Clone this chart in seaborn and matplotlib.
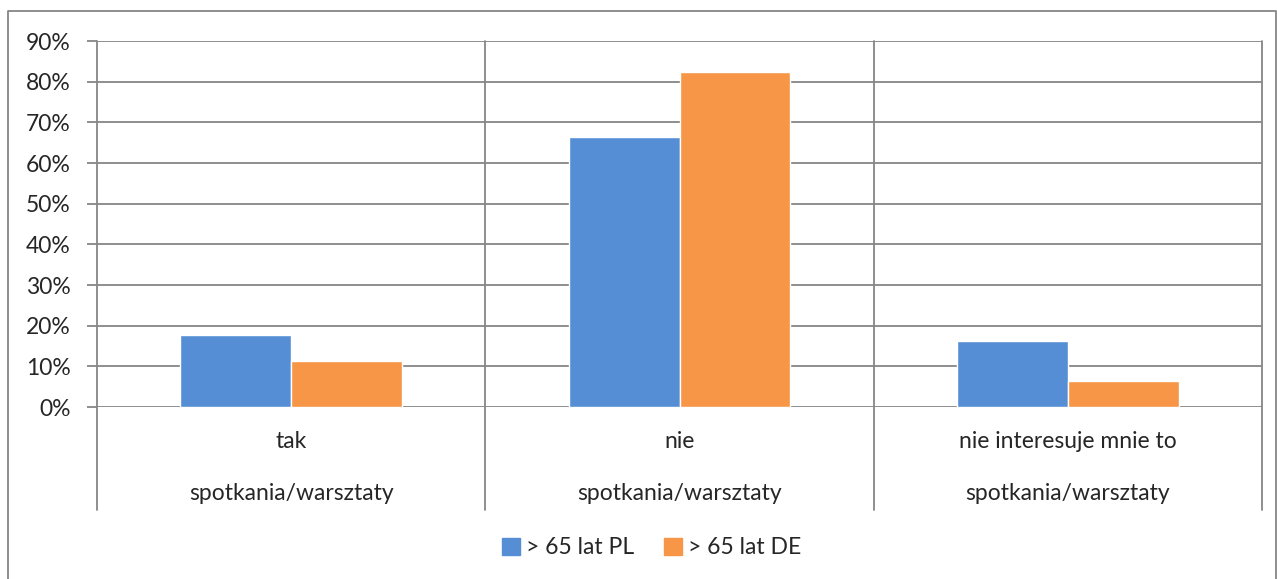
import pandas as pd
import seaborn as sns
import matplotlib.pyplot as plt
from matplotlib.lines import Line2D
from matplotlib.patches import Rectangle
from matplotlib.ticker import PercentFormatter

# values
answers = ["tak", "nie", "nie interesuje mnie to"]
group_label = "spotkania/warsztaty"
series = ["> 65 lat PL", "> 65 lat DE"]
pl_values = [0.177, 0.663, 0.162]
de_values = [0.113, 0.825, 0.065]
y_ticks = [0, 0.1, 0.2, 0.3, 0.4, 0.5, 0.6, 0.7, 0.8, 0.9]

df = pd.DataFrame({
    "answer": answers * 2,
    "group": [series[0]] * 3 + [series[1]] * 3,
    "value": pl_values + de_values,
})

sns.set_style("white")
plt.rcParams["font.family"] = ["Lato", "DejaVu Sans"]
FS = 16.5

W, H = 1277, 579
fig = plt.figure(figsize=(W / 100, H / 100), dpi=100)
left, right, top, bottom = 97, 1262, 41, 407
ax = fig.add_axes([left / W, 1 - bottom / H, (right - left) / W, (bottom - top) / H])

sns.barplot(data=df, x="answer", y="value", hue="group", order=answers,
            hue_order=series, palette=["#558ED5", "#F79646"], width=0.57,
            saturation=1, ax=ax, zorder=3)

ax.set_ylim(0, 0.9)
ax.set_xlim(-0.5, 2.5)
ax.set_yticks(y_ticks)
ax.yaxis.set_major_formatter(PercentFormatter(1.0, decimals=0))
ax.tick_params(axis="y", length=7, width=1.3, color="#868686", labelsize=FS,
               pad=12, left=True)
ax.set_xticks([])
ax.set_xlabel("")
ax.set_ylabel("")
ax.grid(axis="y", color="#868686", lw=1.3, zorder=0)
for s in ax.spines.values():
    s.set_visible(False)

# category separators extending below the axis
ext = (510 - bottom) / (bottom - top)
for xv in [-0.5, 0.5, 1.5, 2.5]:
    ax.add_line(Line2D([xv, xv], [-ext, 1], transform=ax.get_xaxis_transform(),
                       color="#868686", lw=1.3, clip_on=False, zorder=1))

# two-level category labels
y1 = -(441 - bottom) / (bottom - top)
y2 = -(493 - bottom) / (bottom - top)
for i, a in enumerate(answers):
    ax.text(i, y1, a, transform=ax.get_xaxis_transform(), ha="center",
            va="center", fontsize=FS)
    ax.text(i, y2, group_label, transform=ax.get_xaxis_transform(), ha="center",
            va="center", fontsize=FS)

ax.legend_.remove()
handles = [Rectangle((0, 0), 1, 1, color=c) for c in ["#558ED5", "#F79646"]]
fig.legend(handles, series, loc="center", bbox_to_anchor=(652 / W, 1 - 548 / H),
           ncol=2, frameon=False, fontsize=FS, handlelength=0.75,
           handleheight=0.75, handletextpad=0.3, columnspacing=1.3)

# outer chart border
fig.add_artist(Line2D([8 / W, 8 / W, 1276 / W, 1276 / W],
                      [0, 1 - 11 / H, 1 - 11 / H, 0], color="#868686", lw=1.3))

fig.savefig("out.png", dpi=100)
